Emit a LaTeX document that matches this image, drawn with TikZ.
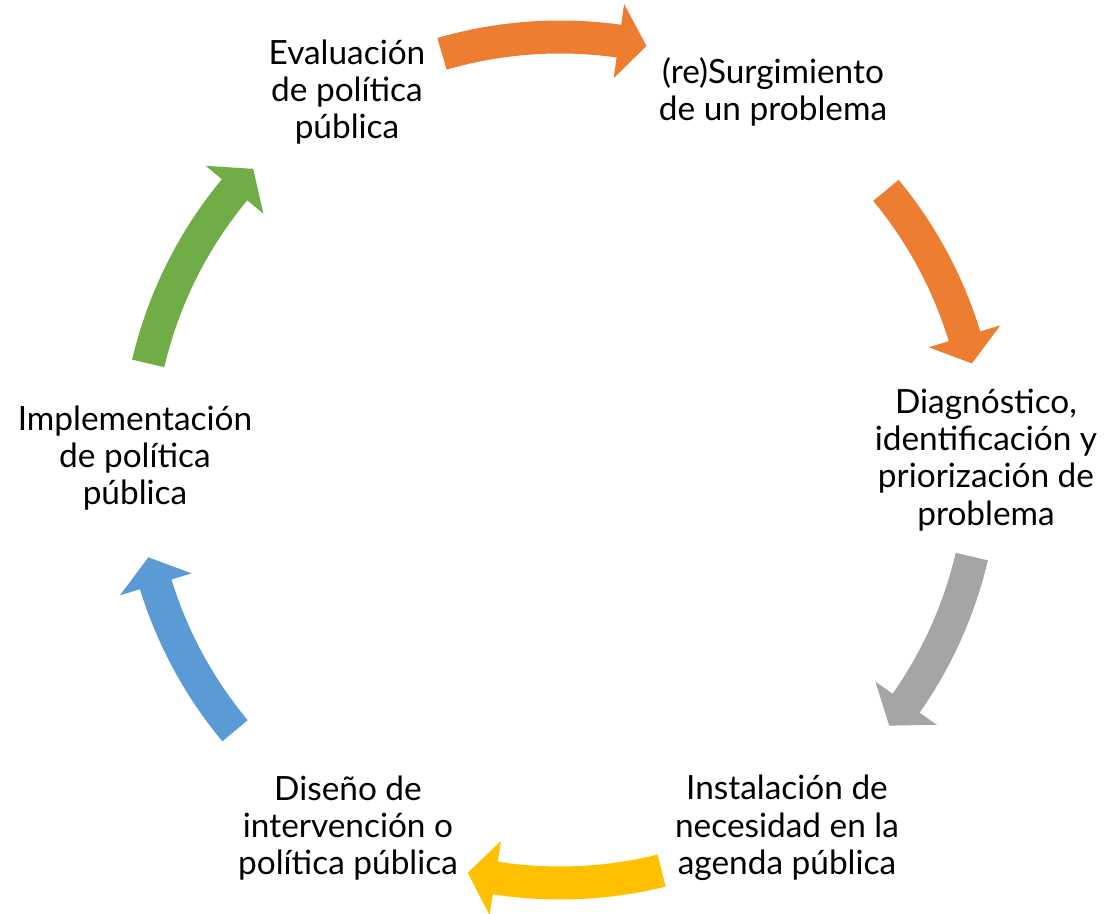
\documentclass[tikz,border=0pt]{standalone}
\usepackage{fontspec}
\setmainfont{Lato}

\definecolor{cycorange}{HTML}{ED7D31}
\definecolor{cycgray}{HTML}{A5A5A5}
\definecolor{cycgold}{HTML}{FFC000}
\definecolor{cycblue}{HTML}{5B9BD5}
\definecolor{cycgreen}{HTML}{70AD47}

% curved block arrow on the ring: colour, tail angle, tip angle
\newcommand{\ringarrow}[3]{%
  \fill[#1] (#2:8.79) arc[start angle=#2, end angle={#3+3.8}, radius=8.79]
    -- ({#3+3.8}:9.21) -- (#3:8.46) -- ({#3+3.8}:7.71) -- ({#3+3.8}:8.13)
    arc[start angle={#3+3.8}, end angle=#2, radius=8.13] -- cycle;}

\begin{document}
\begin{tikzpicture}[every node/.style={font=\fontsize{19}{21.2}\selectfont, align=center}]
  \useasboundingbox (-11.2,-9.08) rectangle (10.92,9.2);

  \node (surg) at (4.26,7.36) {(re)Surgimiento\\de un problema};
  \node (diag) at (8.52,0) {Diagnóstico,\\identificación y\\priorización de\\problema};
  \node (inst) at (4.54,-7.36) {Instalación de\\necesidad en la\\agenda pública};
  \node (dise) at (-4.24,-7.36) {Diseño de\\intervención o\\política pública};
  \node (impl) at (-8.5,0.04) {Implementación\\de política\\pública};
  \node (eval) at (-4.26,7.36) {Evaluación\\de política\\pública};

  \ringarrow{cycorange}{106.2}{78.2}
  \ringarrow{cycorange}{39.6}{13.2}
  \ringarrow{cycgray}{-13.2}{-38.9}
  \ringarrow{cycgold}{-76.1}{-102.6}
  \ringarrow{cycblue}{-140.2}{-166.7}
  \ringarrow{cycgreen}{166.8}{136.5}
\end{tikzpicture}
\end{document}
